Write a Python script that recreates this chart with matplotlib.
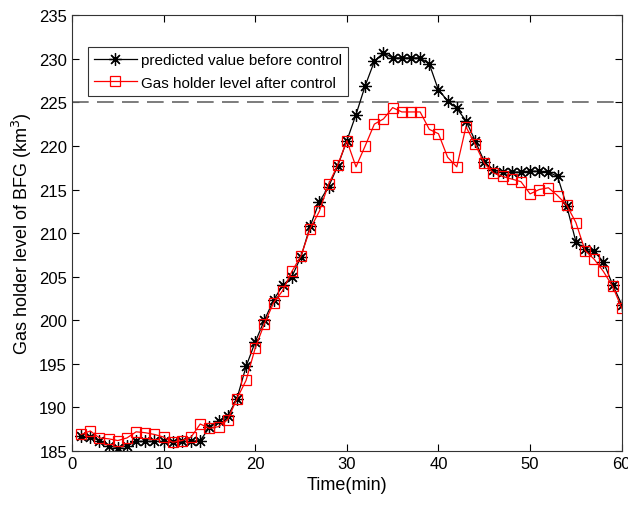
import numpy as np
import matplotlib
matplotlib.use("Agg")
import matplotlib.pyplot as plt

plt.rcParams['font.family'] = ['Liberation Sans', 'DejaVu Sans']

time_min = list(range(1, 61))

before_control = [
    186.7, 186.6, 186.2, 185.6, 185.4, 185.6, 186.1, 186.1, 186.1, 186.1,
    186.0, 186.1, 186.1, 186.2, 187.7, 188.4, 189.0, 191.0, 194.7, 197.5,
    200.0, 202.3, 204.0, 205.0, 207.3, 210.8, 213.6, 215.3, 217.7, 220.6,
    223.6, 226.9, 229.7, 230.7, 230.1, 230.1, 230.1, 230.1, 229.4, 226.4,
    225.2, 224.3, 222.9, 220.6, 218.2, 217.2, 217.0, 217.0, 217.0, 217.1,
    217.1, 217.0, 216.5, 213.1, 209.0, 208.2, 207.9, 206.7, 204.1, 201.8,
]

after_control = [
    186.9, 187.3, 186.5, 186.4, 186.2, 186.5, 187.2, 187.1, 186.9, 186.6,
    186.0, 186.2, 186.6, 188.1, 187.6, 187.8, 188.6, 191.0, 193.1, 196.8,
    199.6, 202.0, 203.4, 205.6, 207.4, 210.5, 212.5, 215.6, 217.8, 220.6,
    217.6, 220.0, 222.5, 223.1, 224.4, 223.9, 223.9, 223.9, 221.9, 221.4,
    218.7, 217.6, 222.2, 220.2, 218.0, 216.9, 216.5, 216.2, 215.9, 214.5,
    215.0, 215.2, 214.3, 213.2, 211.2, 208.0, 207.0, 205.6, 203.9, 201.4,
]

limit_level = 225

fig = plt.figure(figsize=(6.28, 5.06), dpi=100)
ax = fig.add_axes([0.1146, 0.1067, 0.8754, 0.8613])

ax.axhline(limit_level, color='#666666', linestyle=(0, (10, 5)), linewidth=1.2)
# MATLAB-style asterisk marker (8 spokes)
ax.plot(time_min, before_control, color='black', marker=(8, 2, 0), markersize=9,
        markeredgewidth=0.9, linewidth=0.9, label='predicted value before control')
ax.plot(time_min, after_control, color='red', marker='s', markersize=7.5,
        markerfacecolor='none', markeredgewidth=0.9, linewidth=0.9,
        label='Gas holder level after control')

ax.set_xlim(0, 60)
ax.set_ylim(185, 235)
ax.set_xticks(np.arange(0, 61, 10))
ax.set_yticks(np.arange(185, 236, 5))
ax.tick_params(direction='in', labelsize=12, length=5, top=True, right=True,
               labeltop=False, labelright=False)
for s in ax.spines.values():
    s.set_color('#333333')
    s.set_linewidth(0.8)

ax.set_xlabel('Time(min)', fontsize=13)
ax.set_ylabel('Gas holder level of BFG (km$^3$)', fontsize=13)

leg = ax.legend(loc='upper left', bbox_to_anchor=(0.029, 0.927), fontsize=11,
                frameon=True, fancybox=False, edgecolor='black',
                handlelength=2.8, handletextpad=0.3, borderpad=0.4,
                labelspacing=0.55, borderaxespad=0)
leg.get_frame().set_linewidth(0.8)

fig.savefig('out.png', dpi=100)
